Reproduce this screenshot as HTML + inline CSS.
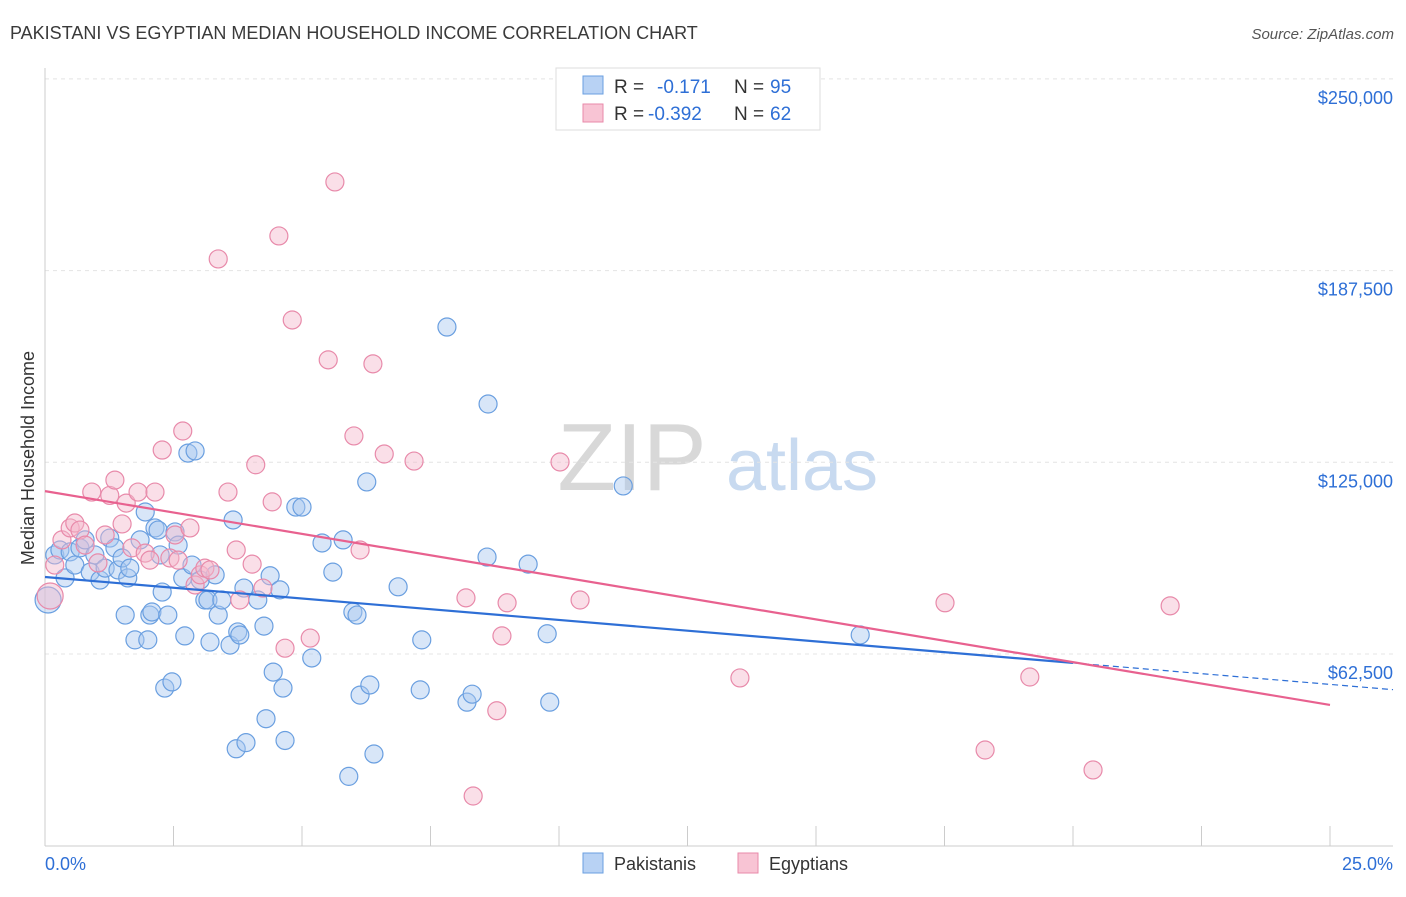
<!DOCTYPE html>
<html><head><meta charset="utf-8">
<style>
body{margin:0;background:#fff;font-family:"Liberation Sans",sans-serif;}
svg text{font-family:"Liberation Sans",sans-serif;}
</style></head>
<body>
<svg id="chart" width="1406" height="892" viewBox="0 0 1406 892" xmlns="http://www.w3.org/2000/svg">
<text x="10" y="39" font-size="18" fill="#3a3a3a">PAKISTANI VS EGYPTIAN MEDIAN HOUSEHOLD INCOME CORRELATION CHART</text>
<text x="1394" y="39" font-size="15" fill="#555" font-style="italic" text-anchor="end">Source: ZipAtlas.com</text>
<text transform="translate(34,458) rotate(-90)" font-size="18" fill="#333" text-anchor="middle">Median Household Income</text>
<g>
<text x="632" y="490" font-size="96" font-family="Liberation Serif" fill="#d8d8d8" text-anchor="middle">ZIP</text>
<text x="802" y="490" font-size="72" fill="#c8daf0" text-anchor="middle">atlas</text>
</g>
<g id="grid"></g><g id="axes"></g><g id="points"></g><g id="trends"></g>
<g>
<rect x="556" y="68" width="264" height="62" fill="#fff" stroke="#ddd"/>
<rect x="583" y="76" width="20" height="18" fill="#b8d2f4" stroke="#6a9fe0"/>
<rect x="583" y="104" width="20" height="18" fill="#f8c4d4" stroke="#e88aaa"/>
<text x="614" y="93" font-size="19" fill="#333">R =</text>
<text x="657" y="93" font-size="19" fill="#2e6fd6">-0.171</text>
<text x="734" y="93" font-size="19" fill="#333">N =</text>
<text x="770" y="93" font-size="19" fill="#2e6fd6">95</text>
<text x="614" y="120" font-size="19" fill="#333">R =</text>
<text x="648" y="120" font-size="19" fill="#2e6fd6">-0.392</text>
<text x="734" y="120" font-size="19" fill="#333">N =</text>
<text x="770" y="120" font-size="19" fill="#2e6fd6">62</text>
</g>
<g>
<rect x="583" y="853" width="20" height="20" fill="#b8d2f4" stroke="#6a9fe0"/>
<text x="614" y="870" font-size="18" fill="#333">Pakistanis</text>
<rect x="738" y="853" width="20" height="20" fill="#f8c4d4" stroke="#e88aaa"/>
<text x="769" y="870" font-size="18" fill="#333">Egyptians</text>
</g>
</svg>
<script>
const yTicks=[62500,125000,187500,250000];
const yTickLabels=["$62,500","$125,000","$187,500","$250,000"];
const xTicks=[0,2.5,5,7.5,10,12.5,15,17.5,20,22.5,25];
const pakX=[0.06,0.19,0.29,0.39,0.49,0.58,0.68,0.78,0.88,0.97,1.07,1.17,1.26,1.36,1.42,1.50,1.56,1.61,1.65,1.75,1.85,1.95,2.00,2.04,2.08,2.14,2.20,2.24,2.28,2.33,2.39,2.47,2.53,2.59,2.68,2.72,2.78,2.86,2.92,3.02,3.11,3.17,3.21,3.31,3.37,3.44,3.60,3.66,3.72,3.75,3.79,3.87,3.91,4.14,4.26,4.30,4.38,4.44,4.57,4.63,4.67,4.88,5.00,5.19,5.39,5.60,5.80,5.91,5.99,6.07,6.13,6.26,6.32,6.40,6.87,7.30,7.33,7.82,8.21,8.31,8.60,8.62,9.40,9.77,9.82,11.25,15.86];
const pakY=[80.1,94.8,96.4,87.3,95.8,91.5,97.1,99.7,89.2,94.8,86.6,90.5,100.3,97.1,89.9,93.8,75.2,87.3,90.5,67.1,99.7,108.8,67.1,75.2,76.2,103.6,102.9,94.8,82.7,51.4,75.2,53.4,102.3,98.0,87.3,68.4,128.0,91.5,128.7,86.6,80.1,80.1,66.4,88.3,75.2,80.1,65.4,106.2,31.6,69.7,68.7,84.0,33.6,80.1,71.6,41.4,88.0,56.6,83.4,51.4,34.3,110.4,110.4,61.2,98.7,89.2,99.7,22.6,76.2,75.2,49.1,118.6,52.4,29.9,84.4,50.8,67.1,169.1,46.8,49.4,94.1,144.0,91.8,69.1,46.8,117.3,68.7];
const egyX=[0.10,0.19,0.33,0.49,0.58,0.68,0.78,0.91,1.03,1.17,1.26,1.36,1.50,1.58,1.69,1.81,1.95,2.04,2.14,2.28,2.43,2.53,2.59,2.68,2.82,2.92,3.02,3.11,3.21,3.37,3.56,3.72,3.79,4.03,4.10,4.24,4.42,4.55,4.67,4.81,5.16,5.51,5.64,6.01,6.13,6.38,6.60,7.18,8.19,8.33,8.79,8.89,8.99,10.02,10.41,13.52,17.51,18.29,19.16,20.39,21.89];
const egyY=[81.4,91.5,99.7,103.6,105.2,102.9,98.0,115.3,92.2,101.3,114.2,119.2,104.9,111.7,97.1,115.3,95.4,93.1,115.3,129.0,93.8,101.3,93.1,135.2,103.6,85.0,88.3,90.5,89.9,191.3,115.3,96.4,80.1,91.8,124.2,84.0,112.1,198.8,64.4,171.4,67.7,158.4,216.4,133.6,96.4,157.1,127.7,125.4,80.8,16.2,44.0,68.4,79.2,125.1,80.1,54.7,79.2,31.2,55.0,24.7,78.2];
const pakTrend=[87.6,59.6];
const egyTrend=[115.6,45.9];

const X0=45,X1=1330,Ybase=845.7,Ypx=191.7;
const sx=v=>X0+(v/25)*(X1-X0);
const sy=k=>Ybase-(k*1000/62500)*Ypx;
const NS="http://www.w3.org/2000/svg";
function mk(tag,attrs,parent){const e=document.createElementNS(NS,tag);for(const k in attrs)e.setAttribute(k,attrs[k]);parent.appendChild(e);return e;}
const grid=document.getElementById('grid'),axes=document.getElementById('axes'),pts=document.getElementById('points'),tr=document.getElementById('trends');
yTicks.forEach((t,i)=>{
  const y=sy(t/1000);
  const l=mk('line',{x1:X0,x2:1393,y1:y,y2:y,stroke:'#e4e4e4','stroke-dasharray':'4,4'},grid);
  
  
  const tx=mk('text',{x:1393,y:y+25,'font-size':18,fill:'#2e6fd6','text-anchor':'end'},axes);
  tx.textContent=yTickLabels[i];
  
  
});
const ax=mk('line',{x1:X0,x2:X0,y1:68,y2:846,stroke:'#ccc'},axes);


const bx=mk('line',{x1:X0,x2:1393,y1:846,y2:846,stroke:'#ccc'},axes);


xTicks.forEach(t=>{
  const x=sx(t);
  const l=mk('line',{x1:x,x2:x,y1:826,y2:846,stroke:'#ccc'},axes);
  
  
});
const xl0=mk('text',{x:45,y:870,'font-size':18,fill:'#2e6fd6'},axes);xl0.textContent='0.0%';


const xl1=mk('text',{x:1393,y:870,'font-size':18,fill:'#2e6fd6','text-anchor':'end'},axes);xl1.textContent='25.0%';


function dots(xs,ys,fill,stroke,name){
  xs.forEach((v,i)=>{
    const r=i===0?13:9;
    const c=mk('circle',{cx:sx(v),cy:sy(ys[i]),r:r,fill:fill,'fill-opacity':0.45,stroke:stroke,'stroke-width':1.2},pts);
    
    
  });
}
dots(pakX,pakY,'#a8c8f0','#6a9fe0','pakistani-point');
dots(egyX,egyY,'#f5b8cc','#e88aaa','egyptian-point');
const slopeP=(pakTrend[1]-pakTrend[0])/20;
const l1=mk('line',{x1:sx(0),y1:sy(pakTrend[0]),x2:sx(20),y2:sy(pakTrend[1]),stroke:'#2e6fd6','stroke-width':2.2},tr);


const l2=mk('line',{x1:sx(20),y1:sy(pakTrend[1]),x2:1393,y2:sy(pakTrend[0]+slopeP*26.23),stroke:'#2e6fd6','stroke-width':1.2,'stroke-dasharray':'6,4'},tr);


const l3=mk('line',{x1:sx(0),y1:sy(egyTrend[0]),x2:sx(25),y2:sy(egyTrend[1]),stroke:'#e8618f','stroke-width':2.2},tr);


</script>
</body></html>
